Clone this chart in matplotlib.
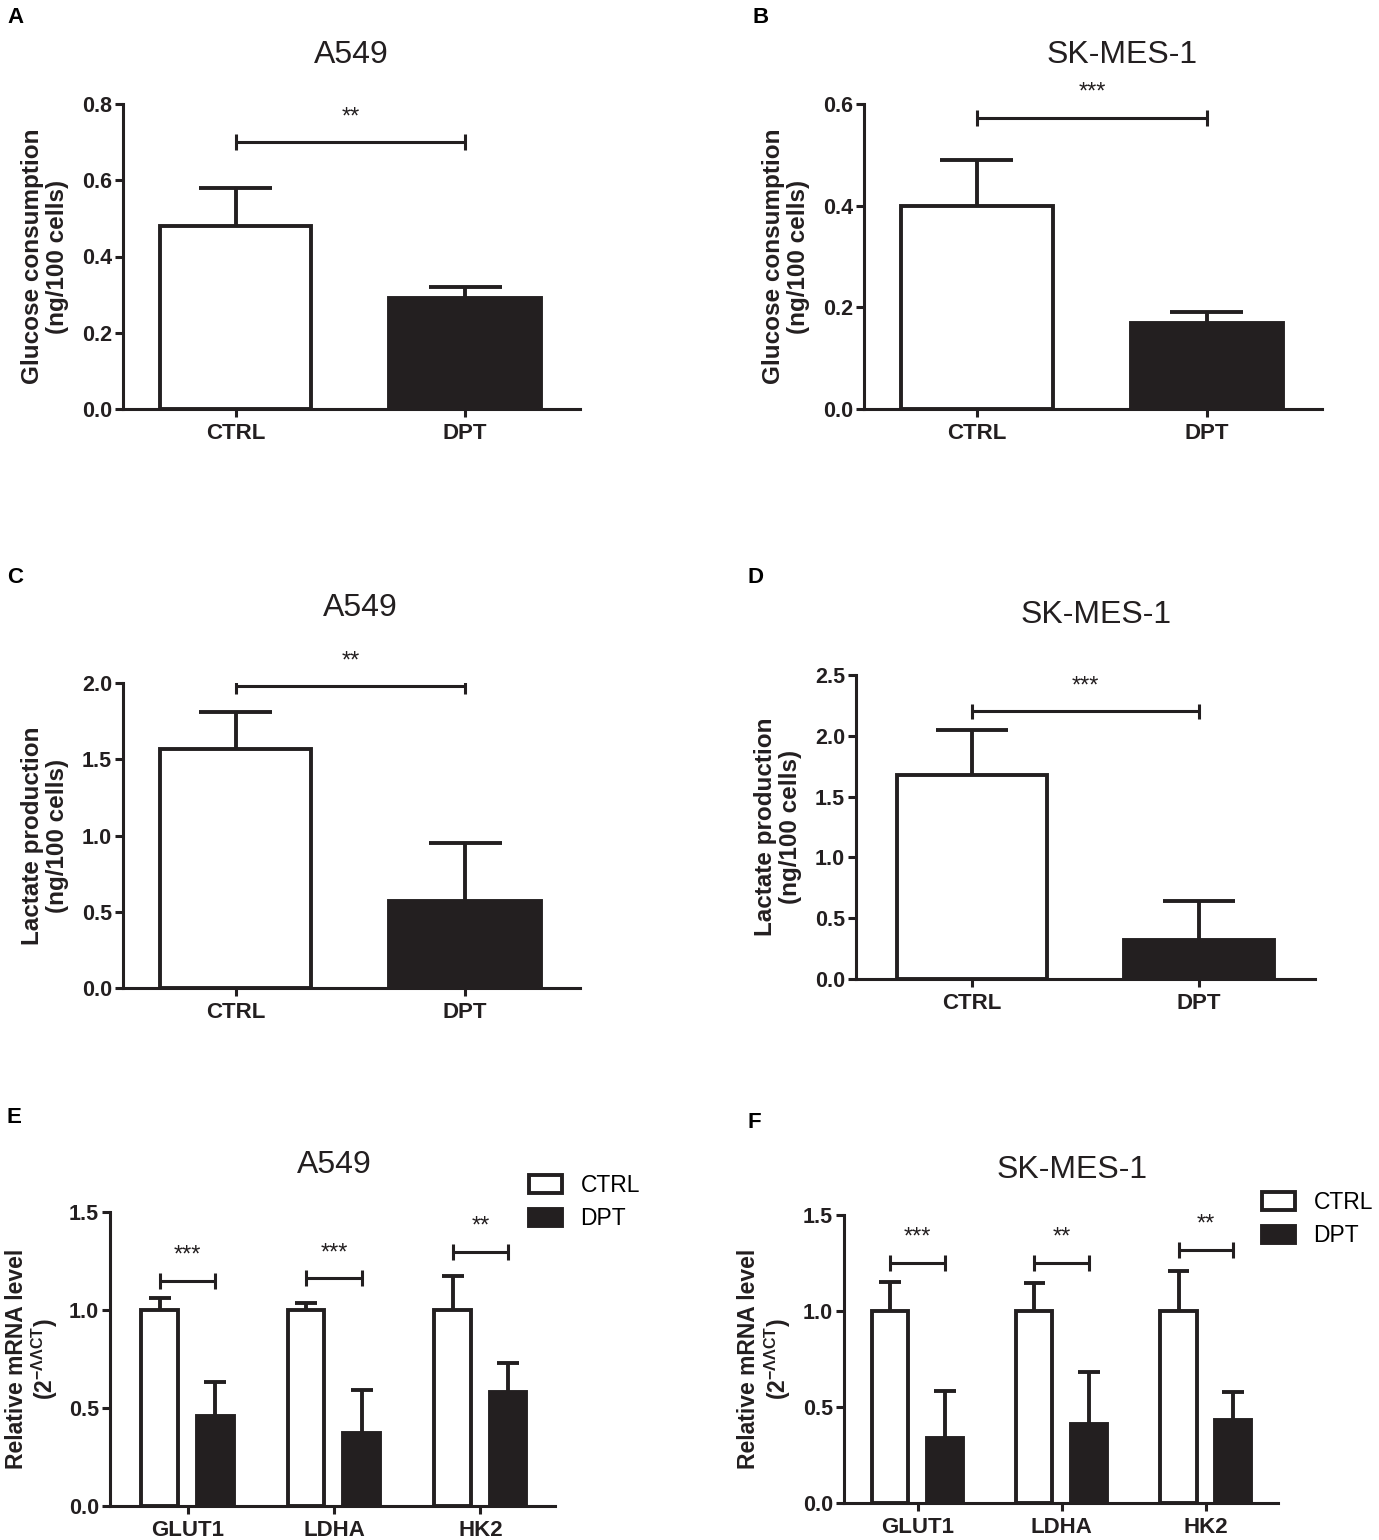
import matplotlib
matplotlib.use("Agg")
import matplotlib.pyplot as plt
import numpy as np

plt.rcParams['font.family'] = ['Liberation Sans', 'DejaVu Sans']
plt.rcParams['mathtext.fontset'] = 'custom'
plt.rcParams['mathtext.rm'] = 'Liberation Sans'
plt.rcParams['mathtext.it'] = 'Liberation Sans:italic'
plt.rcParams['mathtext.bf'] = 'Liberation Sans:bold'

# data
groups = ["CTRL", "DPT"]
glucose_a549 = [0.48, 0.29]
glucose_a549_err = [0.10, 0.03]
glucose_sk = [0.40, 0.17]
glucose_sk_err = [0.09, 0.02]
lactate_a549 = [1.57, 0.57]
lactate_a549_err = [0.24, 0.38]
lactate_sk = [1.68, 0.32]
lactate_sk_err = [0.37, 0.32]

genes = ["GLUT1", "LDHA", "HK2"]
mrna_a549_ctrl = [1.0, 1.0, 1.0]
mrna_a549_ctrl_err = [0.06, 0.035, 0.175]
mrna_a549_dpt = [0.46, 0.37, 0.58]
mrna_a549_dpt_err = [0.175, 0.22, 0.15]
mrna_sk_ctrl = [1.0, 1.0, 1.0]
mrna_sk_ctrl_err = [0.15, 0.145, 0.21]
mrna_sk_dpt = [0.34, 0.41, 0.43]
mrna_sk_dpt_err = [0.245, 0.27, 0.15]

sig_a = ("**", 0.70)
sig_b = ("***", 0.573)
sig_c = ("**", 1.98)
sig_d = ("***", 2.20)
sig_e = (["***", "***", "**"], [1.148, 1.163, 1.296])
sig_f = (["***", "**", "**"], [1.25, 1.25, 1.318])

DARK = "#231f20"
W, H = 1379, 1540

fig = plt.figure(figsize=(W / 100, H / 100), dpi=100)


def px_axes(x0, x1, ytop, ybot):
    return fig.add_axes([x0 / W, 1 - ybot / H, (x1 - x0) / W, (ybot - ytop) / H])


def style(ax, ymax, step, xlim, xticks, xlabels, ylabel):
    for s in ["top", "right"]:
        ax.spines[s].set_visible(False)
    for s in ["left", "bottom"]:
        ax.spines[s].set_linewidth(2.2)
        ax.spines[s].set_color(DARK)
    ax.set_ylim(0, ymax)
    ax.set_xlim(*xlim)
    ax.set_yticks(np.arange(0, ymax + 1e-9, step))
    ax.set_yticklabels(["%.1f" % v for v in np.arange(0, ymax + 1e-9, step)])
    ax.set_xticks(xticks)
    ax.set_xticklabels(xlabels)
    ax.tick_params(axis="both", direction="out", width=2.2, color=DARK)
    ax.tick_params(axis="y", length=5.5, pad=2.5, labelsize=15.5)
    ax.tick_params(axis="x", length=6, pad=4, labelsize=16)
    for t in ax.get_xticklabels() + ax.get_yticklabels():
        t.set_fontweight("bold")
        t.set_color(DARK)
    ax.set_ylabel(ylabel, fontsize=17.5, fontweight="bold", linespacing=1.1, color=DARK)


def err_up(ax, xs, vals, errs, width, capfrac):
    for x, v, e in zip(xs, vals, errs):
        ax.vlines(x, v, v + e, color=DARK, lw=2.8)
        ax.hlines(v + e, x - width * capfrac / 2, x + width * capfrac / 2, color=DARK, lw=2.8)


def bracket(ax, x1, x2, y, label, dy):
    ax.plot([x1, x2], [y, y], color=DARK, lw=2.2, solid_capstyle="butt")
    ax.vlines([x1, x2], y - dy, y + dy, color=DARK, lw=2.2)
    ax.annotate(label, ((x1 + x2) / 2, y), xytext=(0, 18), textcoords="offset points",
                ha="center", va="center", fontsize=17, color=DARK)


def two_bar_panel(ax, vals, errs, ymax, step, xlim, ylabel, sig):
    x = np.arange(len(groups))
    w = 0.66
    ax.bar(x, vals, w, color=["white", DARK], edgecolor=DARK, linewidth=2.8, zorder=3)
    err_up(ax, x, vals, errs, w, 0.48)
    style(ax, ymax, step, xlim, x, groups, ylabel)
    bracket(ax, 0, 1, sig[1], sig[0], 0.026 * ymax)


def gene_panel(ax, ctrl, ctrl_err, dpt, dpt_err, xlim, sig, leg_xy):
    x = np.arange(len(genes))
    w = 0.25
    off = 0.19
    b1 = ax.bar(x - off, ctrl, w, color="white", edgecolor=DARK, linewidth=2.8, zorder=3, label="CTRL")
    b2 = ax.bar(x + off, dpt, w, color=DARK, edgecolor=DARK, linewidth=2.8, zorder=3, label="DPT")
    err_up(ax, x - off, ctrl, ctrl_err, w, 0.6)
    err_up(ax, x + off, dpt, dpt_err, w, 0.6)
    style(ax, 1.5, 0.5, xlim, x, genes,
          "Relative mRNA level\n(2$^{\\mathregular{-\\Lambda\\Lambda CT}}$)")
    ax.yaxis.label.set_fontsize(16.5)
    for i, (lab, y) in enumerate(zip(*sig)):
        bracket(ax, i - off, i + off, y, lab, 0.041)
    ax.legend(handles=[b1, b2], labels=["CTRL", "DPT"], loc="upper left",
              bbox_to_anchor=leg_xy, bbox_transform=fig.transFigure, frameon=False,
              borderpad=0, borderaxespad=0, handlelength=1.45, handleheight=0.8,
              handletextpad=0.8, labelspacing=0.45, fontsize=16.5)


axA = px_axes(123, 580, 104, 409)
two_bar_panel(axA, glucose_a549, glucose_a549_err, 0.8, 0.2, (-0.49, 1.5),
              "Glucose consumption\n(ng/100 cells)", sig_a)
axB = px_axes(864, 1322, 104, 409)
two_bar_panel(axB, glucose_sk, glucose_sk_err, 0.6, 0.2, (-0.49, 1.5),
              "Glucose consumption\n(ng/100 cells)", sig_b)
axC = px_axes(123, 580, 683, 988)
two_bar_panel(axC, lactate_a549, lactate_a549_err, 2.0, 0.5, (-0.49, 1.5),
              "Lactate production\n(ng/100 cells)", sig_c)
axD = px_axes(856, 1315, 675, 979)
two_bar_panel(axD, lactate_sk, lactate_sk_err, 2.5, 0.5, (-0.51, 1.51),
              "Lactate production\n(ng/100 cells)", sig_d)
axE = px_axes(110, 555, 1212, 1506)
gene_panel(axE, mrna_a549_ctrl, mrna_a549_ctrl_err, mrna_a549_dpt, mrna_a549_dpt_err,
           (-0.53, 2.51), sig_e, (529 / W, 1 - 1174 / H))
axF = px_axes(844, 1278, 1215, 1503)
gene_panel(axF, mrna_sk_ctrl, mrna_sk_ctrl_err, mrna_sk_dpt, mrna_sk_dpt_err,
           (-0.51, 2.5), sig_f, (1262 / W, 1 - 1191 / H))

# y-label positions (right edge of label block, axes fraction)
axA.yaxis.set_label_coords(-0.118, 0.5)
axB.yaxis.set_label_coords(-0.118, 0.5)
axC.yaxis.set_label_coords(-0.118, 0.5)
axD.yaxis.set_label_coords(-0.118, 0.5)
axE.yaxis.set_label_coords(-0.112, 0.5)
axF.yaxis.set_label_coords(-0.118, 0.5)

# titles
titles = [(axA, "A549", 0.5, 1.161), (axB, "SK-MES-1", 0.563, 1.161),
          (axC, "A549", 0.519, 1.246), (axD, "SK-MES-1", 0.523, 1.197),
          (axE, "A549", 0.505, 1.16), (axF, "SK-MES-1", 0.525, 1.156)]
for ax, t, x, y in titles:
    ax.text(x, y, t, transform=ax.transAxes, ha="center", va="center", fontsize=23, color=DARK)

# panel letters
for lab, x, y in [("A", 7, 7), ("B", 752, 7), ("C", 7, 567), ("D", 747, 567),
                  ("E", 7, 1107), ("F", 747, 1112)]:
    fig.text(x / W, 1 - y / H, lab, ha="left", va="top", fontsize=16, fontweight="bold", color="black")

fig.savefig("out.png", dpi=100)
